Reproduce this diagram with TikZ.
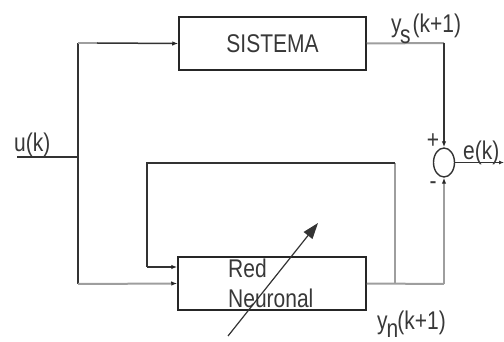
\documentclass[tikz,border=0pt]{standalone}
\usepackage{fontspec}
\setmainfont{Liberation Sans}
\usetikzlibrary{arrows.meta,shapes.geometric}
\newcommand{\tall}[1]{\scalebox{1}[1.22]{#1}}
\begin{document}
\begin{tikzpicture}[x=1pt,y=-1pt,
  dk/.style={draw=black!80,line width=1.5pt},
  gr/.style={draw=black!38,line width=2pt},
  tip/.style={-{Latex[length=6pt,width=4.5pt,color=black!85]}},
  box/.style={draw=black!85,line width=1.5pt,rectangle,inner sep=0pt},
  lbl/.style={font=\fontsize{21}{24}\selectfont,text=black!78,inner sep=0pt}]
\useasboundingbox (0,0) rectangle (504,342);
% blocks
\node[box,minimum width=187pt,minimum height=53pt,lbl] (sis) at (272.5,43.5) {\tall{SISTEMA}};
\node[box,minimum width=188pt,minimum height=53pt] (red) at (272,283.5) {};
\node[lbl,anchor=base west] (redA) at (228,277) {\tall{Red}};
\node[lbl,anchor=base west] (redB) at (228,308) {\tall{Neuronal}};
\node[draw=black!80,line width=1.4pt,ellipse,minimum width=21pt,minimum height=29pt,inner sep=0pt] (sum) at (444,162.5) {};
% coordinates
\coordinate (uin) at (17,157);
\coordinate (j1) at (78,157);
\coordinate (ttop) at (78,43);
\coordinate (tg) at (97,43);
\coordinate (jb) at (78,284);
\coordinate (ysc) at (444,43);
\coordinate (ynj) at (395,284);
\coordinate (ync) at (444,284);
\coordinate (fbr) at (395,163);
\coordinate (fbl) at (147,163);
\coordinate (fbb) at (147,267);
\coordinate (eout) at (504,162.5);
\coordinate (arrS) at (228,336);
\coordinate (arrE) at (318,223);
% input
\draw[dk] (uin) -- (j1);
\draw[dk] (ttop) -- (jb);
\draw[gr] (ttop) -- (tg);
\draw[dk,tip] (tg) -- (sis.west);
\draw[gr,tip] (jb) -- (red.west);
% system output
\draw[gr] (sis.east) -- (ysc);
\draw[dk,tip] (ysc) -- (sum.north);
% network output
\draw[gr] (red.east) -- (ync);
\draw[gr,tip] (ync) -- (sum.south);
% feedback
\draw[gr] (ynj) -- (fbr);
\draw[dk] (fbr) -- (fbl) -- (fbb);
\draw[dk,tip] (fbb) -- (fbb -| red.west);
% error output
\draw[dk,-{Latex[length=5pt,width=4pt]}] (sum.east) -- (eout);
% adjusting arrow
\draw[draw=black!80,line width=1.2pt,-{Triangle[length=16pt,width=11pt]}] (arrS) -- (arrE);
% labels
\node[lbl,anchor=base west] (lu) at (14,152) {\tall{u(k)}};
\node[lbl,anchor=base west] (le) at (463,160) {\tall{e(k)}};
\node[lbl,anchor=base west] (lys) at (391,33) {\tall{y\kern-1.5pt\raisebox{-9pt}{s}\kern2pt(k+1)}};
\node[lbl,anchor=base west] (lyn) at (377,330) {\tall{y\kern-1pt\raisebox{-6pt}{n}\kern-1pt(k+1)}};
\node[lbl,anchor=base] (lp) at (433,149) {\tall{+}};
\node[lbl,anchor=base] (lm) at (433,190) {\tall{-}};
\end{tikzpicture}
\end{document}
